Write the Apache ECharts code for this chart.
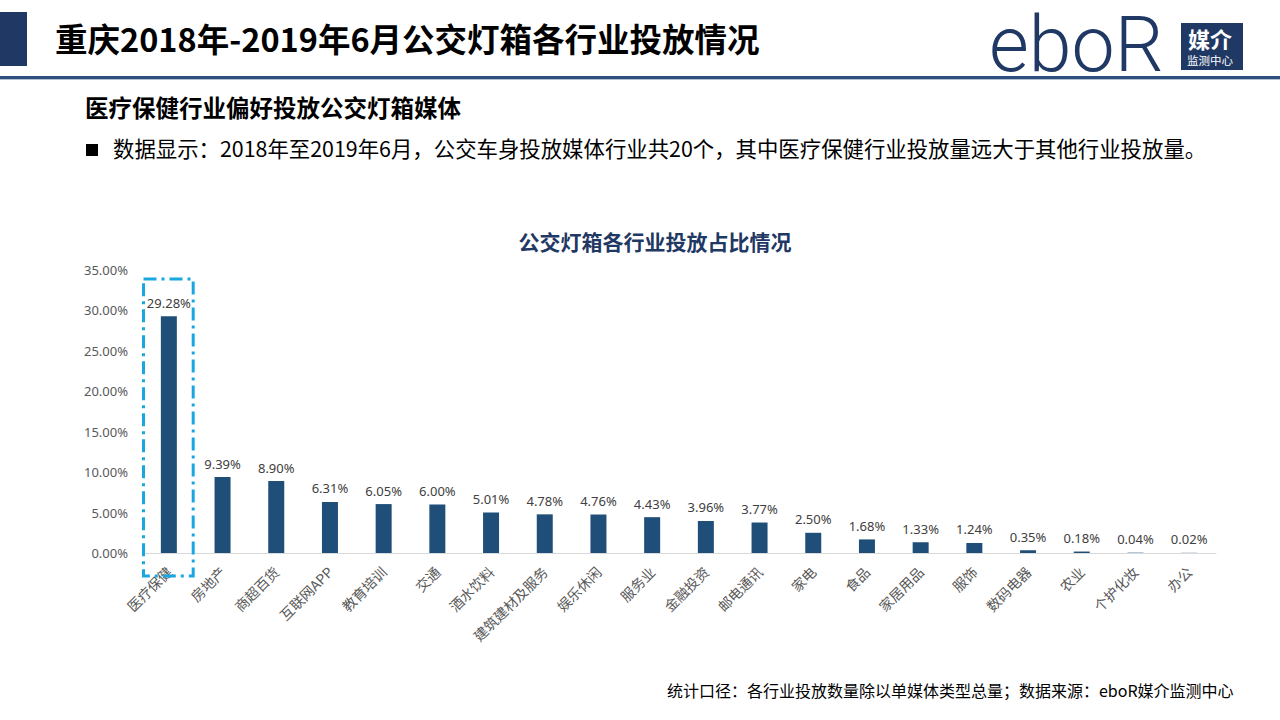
<!DOCTYPE html>
<html>
<head>
<meta charset="utf-8">
<script src="https://cdn.jsdelivr.net/npm/echarts@6/dist/echarts.min.js"></script>
<style>
html,body{margin:0;padding:0;background:#fff;}
#main{width:1280px;height:720px;}
</style>
</head>
<body>
<div id="main"></div>
<script>
const categories = ['医疗保健','房地产','商超百货','互联网APP','教育培训','交通','酒水饮料','建筑建材及服务','娱乐休闲','服务业','金融投资','邮电通讯','家电','食品','家居用品','服饰','数码电器','农业','个护化妆','办公'];
const shares = [29.28, 9.39, 8.90, 6.31, 6.05, 6.00, 5.01, 4.78, 4.76, 4.43, 3.96, 3.77, 2.50, 1.68, 1.33, 1.24, 0.35, 0.18, 0.04, 0.02];
const yTicks = [0, 5, 10, 15, 20, 25, 30, 35];

const pageTitle = '重庆2018年-2019年6月公交灯箱各行业投放情况';
const subTitle = '医疗保健行业偏好投放公交灯箱媒体';
const bulletText = '数据显示：2018年至2019年6月，公交车身投放媒体行业共20个，其中医疗保健行业投放量远大于其他行业投放量。';
const chartTitle = '公交灯箱各行业投放占比情况';
const footText = '统计口径：各行业投放数量除以单媒体类型总量；数据来源：eboR媒介监测中心';

const NAVY = '#1f3864';
const BAR = '#1f4e79';
const CJK = '"Noto Sans CJK SC", "Microsoft YaHei", sans-serif';

const chart = echarts.init(document.getElementById('main'), null, {renderer: 'svg'});

const baseGraphic = [
  {type: 'rect', shape: {x: 0, y: 12, width: 27, height: 54}, style: {fill: NAVY}},
  {type: 'text', left: 55, top: 21, style: {text: pageTitle, font: 'bold 32.5px ' + CJK, fill: '#000'}},
  {type: 'rect', shape: {x: 0, y: 76, width: 1280, height: 3}, style: {fill: '#2f4f7f'}},
  {type: 'rect', shape: {x: 0, y: 79, width: 1280, height: 1}, style: {fill: '#b4c0d3'}},
  {type: 'text', left: 989, top: 6, style: {text: 'eboR', fontFamily: 'Roboto', fontWeight: 300, fontSize: 77, lineHeight: 70, fill: NAVY}},
  {type: 'rect', shape: {x: 1181, y: 23, width: 62, height: 47}, style: {fill: NAVY}},
  {type: 'text', left: 1188, top: 26, style: {text: '媒介', font: 'bold 22px ' + CJK, lineHeight: 24, fill: '#fff'}},
  {type: 'text', left: 1187, top: 53, style: {text: '监测中心', font: '11.5px ' + CJK, lineHeight: 14, fill: '#fff'}},
  {type: 'text', left: 85, top: 95, style: {text: subTitle, font: 'bold 23.5px ' + CJK, fill: '#000'}},
  {type: 'rect', shape: {x: 86, y: 144, width: 12, height: 12}, style: {fill: '#000'}},
  {type: 'text', left: 113, top: 137, style: {text: bulletText, font: '21.4px ' + CJK, fill: '#000'}},
  {type: 'text', left: 667, top: 682, style: {text: footText, font: '16px ' + CJK, fill: '#000'}}
];

const option = {
  backgroundColor: '#fff',
  animation: false,
  title: {
    text: chartTitle, left: 650, top: 225, textAlign: 'center',
    textStyle: {fontFamily: CJK, fontSize: 21, fontWeight: 'bold', color: NAVY}
  },
  grid: {left: 142, right: 64, top: 270, bottom: 167, containLabel: false},
  xAxis: {
    type: 'category', data: categories,
    axisLine: {lineStyle: {color: '#d9d9d9', width: 1}},
    axisTick: {show: false},
    axisLabel: {rotate: 45, interval: 0, margin: 16, color: '#595959', fontSize: 14, fontFamily: CJK}
  },
  yAxis: {
    type: 'value', min: yTicks[0], max: yTicks[yTicks.length - 1], interval: 5,
    axisLine: {show: false}, axisTick: {show: false}, splitLine: {show: false},
    axisLabel: {color: '#595959', fontSize: 13, margin: 14, fontFamily: 'Noto Sans, sans-serif',
      formatter: v => v.toFixed(2) + '%'}
  },
  series: [{
    type: 'bar', data: shares, barWidth: 16,
    itemStyle: {color: BAR},
    label: {show: true, position: 'top', distance: 7, color: '#404040', fontSize: 13,
      fontFamily: 'Noto Sans, sans-serif', formatter: p => p.value.toFixed(2) + '%'}
  }],
  graphic: baseGraphic
};
chart.setOption(option);

// highlight frame around the first category, positioned through the axes
const pCenter = chart.convertToPixel({xAxisIndex: 0}, categories[0]);
const pNext = chart.convertToPixel({xAxisIndex: 0}, categories[1]);
const bandW = pNext - pCenter;
const pTop = chart.convertToPixel({yAxisIndex: 0}, 34);
const pZero = chart.convertToPixel({yAxisIndex: 0}, 0);
chart.setOption({
  graphic: [...baseGraphic, {
    type: 'rect', z: 10,
    shape: {x: pCenter - bandW / 2 + 1.5, y: pTop + 1, width: bandW - 4, height: pZero - pTop + 22},
    style: {fill: 'none', stroke: '#1aa7e0', lineWidth: 3, lineDash: [13, 5, 3, 5]}
  }]
}, {replaceMerge: ['graphic']});
</script>
</body>
</html>
